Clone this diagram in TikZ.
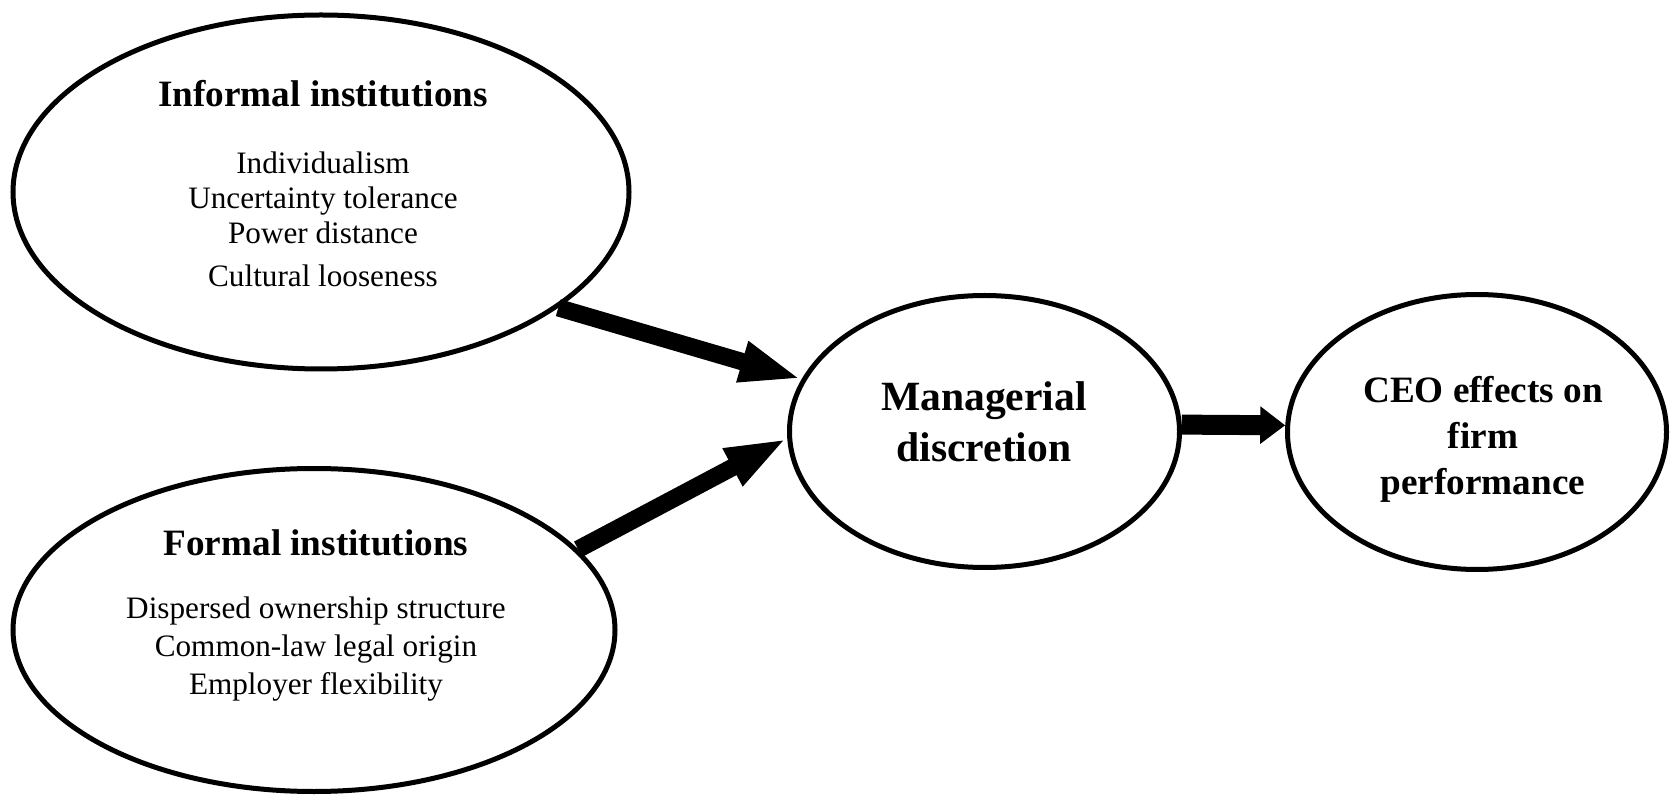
\documentclass[tikz,border=0pt]{standalone}
\usepackage{fontspec}
\setmainfont{Liberation Serif}
\usetikzlibrary{shapes.geometric, arrows.meta, positioning}

\begin{document}
\begin{tikzpicture}[x=0.5pt, y=-0.5pt,
  blob/.style={draw, ellipse, line width=2.5pt, inner sep=0pt},
  head/.style={font=\fontsize{18.6}{22}\selectfont\bfseries, align=center},
  items/.style={font=\fontsize{15.6}{17.5}\selectfont, align=center},
  big/.style={font=\fontsize{20.8}{25.5}\selectfont\bfseries, align=center},
  fat/.style={line width=8.7pt, -{Triangle[length=31pt, width=19pt]}},
  short fat/.style={line width=10pt, -{Triangle[length=12.5pt, width=18pt]}}]
 \useasboundingbox (0,0) rectangle (1671,796);
 \node[blob, minimum width=308pt, minimum height=177pt] (inf) at (321,192) {};
 \node[blob, minimum width=301pt, minimum height=161.5pt] (frm) at (314,630) {};
 \node[blob, minimum width=195pt, minimum height=136pt] (mgr) at (984.5,431.5) {};
 \node[blob, minimum width=189.5pt, minimum height=137.5pt] (ceo) at (1477,432) {};
 \node[head] (infhead) at (323,94) {Informal institutions};
 \node[items] (inflist) at (323,219) {Individualism\\Uncertainty tolerance\\Power distance\\[4pt]Cultural looseness};
 \node[head] (frmhead) at (316,543) {Formal institutions};
 \node[items, font=\fontsize{15.6}{19}\selectfont] (frmlist) at (316,649) {Dispersed ownership structure\\Common-law legal origin\\Employer flexibility};
 \node[big] (mgrtext) at (984,422) {Managerial\\discretion};
 \node[head, font=\fontsize{18.6}{23}\selectfont\bfseries] (ceotext) at (1483,439) {CEO effects on\\firm\\performance};
 \draw[fat] (inf.-26) -- (mgr.164.5);
 \draw[fat] (frm.17.4) -- (mgr.182.5);
 \draw[short fat] (mgr.2) -- (ceo.178);
\end{tikzpicture}
\end{document}
